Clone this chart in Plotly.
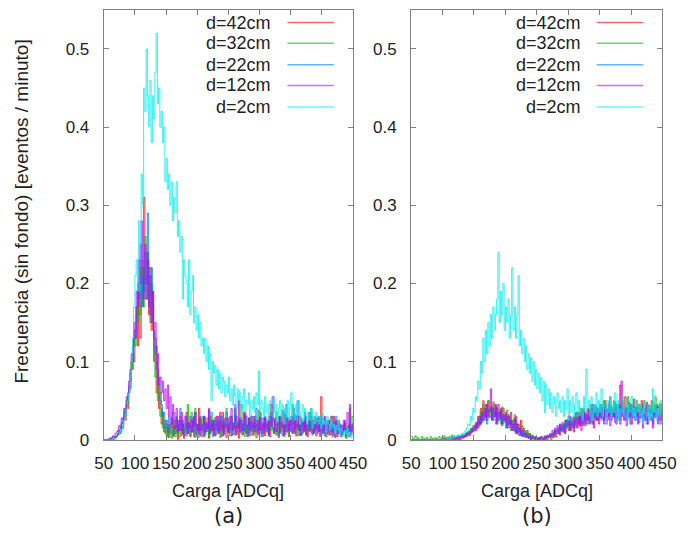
import plotly.graph_objects as go

# ---------------- data (bins of 2 ADCq, starting at 50) ----------------
ADC = list(range(50, 451, 2))

labels = ["d=42cm", "d=32cm", "d=22cm", "d=12cm", "d=2cm"]
colors = ["#ff0000", "#00c000", "#0080ff", "#c000ff", "#00eeee"]

# ---- panel (a) ----
a_d42 = [0, 0, 0, 0, 0, 0, 0, 0.002, 0, 0.003,
         0.004, 0.006, 0.01, 0.008, 0.018, 0.015, 0.03, 0.025, 0.045, 0.04,
         0.06, 0.075, 0.09, 0.11, 0.1, 0.14, 0.17, 0.12, 0.19, 0.13,
         0.22, 0.17, 0.31, 0.2, 0.18, 0.24, 0.16, 0.22, 0.14, 0.19,
         0.1, 0.13, 0.06, 0.09, 0.04, 0.06, 0.02, 0.035, 0.01, 0.025,
         0.005, 0.02, 0.003, 0.015, 0.028, 0.004, 0.018, 0.008, 0.025, 0,
         0.012, 0.03, 0.006, 0.02, 0.002, 0.015, 0.035, 0.008, 0.02, 0.004,
         0.025, 0.01, 0.03, 0.003, 0.018, 0.012, 0.04, 0.006, 0.02, 0.015,
         0.004, 0.028, 0.01, 0.02, 0.002, 0.03, 0.012, 0.025, 0.006, 0.018,
         0.03, 0.008, 0.015, 0.035, 0.004, 0.02, 0.01, 0.028, 0.003, 0.018,
         0.012, 0.03, 0.005, 0.022, 0.015, 0.04, 0.008, 0.018, 0.002, 0.025,
         0.015, 0.006, 0.035, 0.01, 0.02, 0.004, 0.028, 0.012, 0.03, 0.006,
         0.018, 0.025, 0.003, 0.02, 0.012, 0.035, 0.008, 0.015, 0.028, 0.005,
         0.02, 0.01, 0.03, 0.004, 0.045, 0.015, 0.008, 0.025, 0.012, 0.02,
         0.003, 0.03, 0.015, 0.038, 0.006, 0.02, 0.01, 0.028, 0.004, 0.018,
         0.025, 0.008, 0.015, 0.032, 0.005, 0.02, 0.012, 0.03, 0.006, 0.022,
         0.01, 0.035, 0.015, 0.004, 0.025, 0.012, 0.03, 0.008, 0.02, 0.015,
         0.005, 0.028, 0.012, 0.02, 0.055, 0.008, 0.018, 0.025, 0.004, 0.015,
         0.022, 0.006, 0.03, 0.01, 0.018, 0.003, 0.025, 0.012, 0.008, 0.02,
         0.004, 0.015, 0.01, 0.022, 0.002, 0.012, 0.018, 0.005, 0.01, 0.02,
         0.008]
a_d32 = [0, 0, 0, 0, 0, 0.002, 0, 0.003, 0.004, 0.002,
         0.006, 0.008, 0.012, 0.015, 0.022, 0.02, 0.035, 0.03, 0.05, 0.045,
         0.07, 0.065, 0.1, 0.09, 0.13, 0.12, 0.17, 0.15, 0.2, 0.16,
         0.19, 0.23, 0.17, 0.26, 0.2, 0.18, 0.22, 0.15, 0.2, 0.17,
         0.12, 0.08, 0.1, 0.05, 0.07, 0.03, 0.04, 0.015, 0.02, 0.008,
         0.015, 0.003, 0.01, 0.02, 0.002, 0.012, 0.025, 0.004, 0.03, 0.008,
         0.018, 0.004, 0.025, 0.012, 0.006, 0.02, 0.01, 0.045, 0.015, 0.005,
         0.035, 0.01, 0.02, 0.04, 0.008, 0.018, 0.003, 0.025, 0.012, 0.03,
         0.006, 0.02, 0.015, 0.028, 0.004, 0.01, 0.035, 0.012, 0.02, 0.005,
         0.025, 0.012, 0.018, 0.003, 0.03, 0.015, 0.008, 0.022, 0.04, 0.01,
         0.018, 0.005, 0.028, 0.012, 0.02, 0.035, 0.006, 0.015, 0.025, 0.01,
         0.045, 0.012, 0.02, 0.004, 0.03, 0.015, 0.008, 0.025, 0.012, 0.018,
         0.006, 0.03, 0.01, 0.02, 0.038, 0.012, 0.004, 0.022, 0.015, 0.028,
         0.01, 0.018, 0.005, 0.03, 0.012, 0.025, 0.008, 0.02, 0.035, 0.006,
         0.015, 0.028, 0.01, 0.02, 0.004, 0.032, 0.012, 0.018, 0.006, 0.025,
         0.02, 0.045, 0.01, 0.015, 0.03, 0.005, 0.022, 0.012, 0.028, 0.008,
         0.018, 0.03, 0.006, 0.022, 0.012, 0.015, 0.04, 0.008, 0.02, 0.01,
         0.028, 0.012, 0.018, 0.004, 0.03, 0.015, 0.008, 0.022, 0.012, 0.025,
         0.006, 0.018, 0.012, 0.03, 0.008, 0.02, 0.004, 0.015, 0.025, 0.01,
         0.012, 0.006, 0.02, 0.015, 0.004, 0.018, 0.01, 0.04, 0.012, 0.03,
         0.015]
a_d22 = [0, 0, 0, 0, 0, 0, 0.002, 0, 0.003, 0.004,
         0.005, 0.008, 0.012, 0.01, 0.02, 0.025, 0.03, 0.04, 0.045, 0.06,
         0.065, 0.085, 0.1, 0.12, 0.14, 0.13, 0.16, 0.2, 0.18, 0.25,
         0.17, 0.21, 0.19, 0.24, 0.18, 0.29, 0.2, 0.16, 0.22, 0.18,
         0.14, 0.11, 0.12, 0.07, 0.08, 0.05, 0.045, 0.03, 0.035, 0.015,
         0.025, 0.01, 0.03, 0.008, 0.02, 0.035, 0.006, 0.015, 0.028, 0.01,
         0.02, 0.04, 0.012, 0.025, 0.005, 0.018, 0.03, 0.008, 0.022, 0.015,
         0.01, 0.028, 0.004, 0.035, 0.015, 0.02, 0.008, 0.03, 0.012, 0.018,
         0.03, 0.006, 0.02, 0.012, 0.038, 0.01, 0.025, 0.004, 0.018, 0.028,
         0.012, 0.022, 0.008, 0.03, 0.015, 0.005, 0.025, 0.018, 0.035, 0.01,
         0.02, 0.012, 0.03, 0.006, 0.018, 0.045, 0.01, 0.022, 0.015, 0.028,
         0.008, 0.02, 0.012, 0.032, 0.018, 0.005, 0.025, 0.015, 0.03, 0.01,
         0.022, 0.015, 0.04, 0.008, 0.02, 0.012, 0.028, 0.004, 0.018, 0.03,
         0.012, 0.025, 0.008, 0.02, 0.035, 0.015, 0.01, 0.028, 0.006, 0.022,
         0.018, 0.03, 0.012, 0.005, 0.025, 0.015, 0.045, 0.01, 0.02, 0.012,
         0.03, 0.008, 0.022, 0.015, 0.028, 0.05, 0.012, 0.02, 0.006, 0.025,
         0.015, 0.03, 0.008, 0.02, 0.012, 0.035, 0.018, 0.006, 0.025, 0.012,
         0.02, 0.008, 0.03, 0.015, 0.022, 0.01, 0.028, 0.005, 0.018, 0.012,
         0.025, 0.01, 0.018, 0.004, 0.022, 0.012, 0.03, 0.008, 0.015, 0.02,
         0.006, 0.018, 0.012, 0.025, 0.008, 0.015, 0.004, 0.02, 0.01, 0.018,
         0.01]
a_d12 = [0, 0, 0, 0, 0.002, 0, 0.003, 0.005, 0.004, 0.008,
         0.01, 0.012, 0.018, 0.015, 0.028, 0.025, 0.04, 0.035, 0.055, 0.05,
         0.075, 0.09, 0.11, 0.1, 0.15, 0.13, 0.19, 0.17, 0.23, 0.2,
         0.28, 0.22, 0.18, 0.25, 0.2, 0.23, 0.17, 0.21, 0.15, 0.19,
         0.13, 0.15, 0.09, 0.11, 0.07, 0.08, 0.06, 0.075, 0.05, 0.065,
         0.04, 0.07, 0.03, 0.055, 0.02, 0.045, 0.035, 0.015, 0.04, 0.01,
         0.025, 0.012, 0.035, 0.008, 0.02, 0.03, 0.005, 0.022, 0.015, 0.03,
         0.01, 0.025, 0.018, 0.035, 0.006, 0.02, 0.012, 0.028, 0.004, 0.018,
         0.03, 0.01, 0.022, 0.015, 0.04, 0.008, 0.02, 0.012, 0.025, 0.005,
         0.018, 0.03, 0.01, 0.025, 0.012, 0.035, 0.006, 0.02, 0.015, 0.028,
         0.008, 0.022, 0.04, 0.012, 0.018, 0.006, 0.03, 0.015, 0.05, 0.01,
         0.025, 0.012, 0.02, 0.035, 0.008, 0.018, 0.028, 0.005, 0.022, 0.015,
         0.03, 0.01, 0.018, 0.025, 0.006, 0.035, 0.012, 0.02, 0.008, 0.028,
         0.015, 0.022, 0.005, 0.03, 0.018, 0.055, 0.025, 0.012, 0.01, 0.02,
         0.03, 0.008, 0.022, 0.015, 0.035, 0.006, 0.018, 0.028, 0.012, 0.025,
         0.01, 0.02, 0.04, 0.008, 0.025, 0.015, 0.03, 0.005, 0.018, 0.022,
         0.012, 0.028, 0.006, 0.02, 0.035, 0.01, 0.018, 0.025, 0.008, 0.03,
         0.015, 0.022, 0.01, 0.028, 0.005, 0.018, 0.012, 0.03, 0.02, 0.008,
         0.025, 0.012, 0.018, 0.006, 0.03, 0.015, 0.022, 0.004, 0.02, 0.012,
         0.018, 0.008, 0.025, 0.012, 0.02, 0.035, 0.01, 0.045, 0.006, 0.015,
         0.02]
a_d2 = [0, 0, 0, 0, 0, 0, 0, 0.002, 0, 0.002,
        0.003, 0.005, 0.006, 0.01, 0.012, 0.018, 0.025, 0.03, 0.04, 0.05,
        0.06, 0.08, 0.1, 0.13, 0.17, 0.21, 0.23, 0.19, 0.28, 0.25,
        0.34, 0.3, 0.45, 0.42, 0.5, 0.44, 0.4, 0.46, 0.38, 0.44,
        0.41, 0.47, 0.52, 0.43, 0.45, 0.4, 0.42, 0.38, 0.4, 0.33,
        0.36, 0.32, 0.34, 0.3, 0.33, 0.28, 0.31, 0.29, 0.33, 0.26,
        0.28, 0.24, 0.26, 0.18, 0.23, 0.21, 0.2, 0.17, 0.23, 0.16,
        0.19, 0.21, 0.15, 0.17, 0.14, 0.16, 0.13, 0.15, 0.12, 0.13,
        0.11, 0.13, 0.1, 0.12, 0.09, 0.11, 0.05, 0.1, 0.085, 0.095,
        0.07, 0.09, 0.065, 0.085, 0.06, 0.08, 0.075, 0.055, 0.07, 0.06,
        0.08, 0.05, 0.065, 0.045, 0.07, 0.055, 0.04, 0.065, 0.05, 0.06,
        0.04, 0.055, 0.065, 0.035, 0.05, 0.045, 0.06, 0.03, 0.05, 0.04,
        0.055, 0.035, 0.06, 0.045, 0.088, 0.03, 0.05, 0.04, 0.03, 0.055,
        0.035, 0.045, 0.025, 0.05, 0.04, 0.03, 0.055, 0.035, 0.045, 0.025,
        0.04, 0.05, 0.03, 0.045, 0.02, 0.04, 0.035, 0.05, 0.025, 0.04,
        0.06, 0.03, 0.04, 0.025, 0.045, 0.035, 0.05, 0.02, 0.035, 0.045,
        0.025, 0.04, 0.03, 0.02, 0.035, 0.025, 0.04, 0.015, 0.03, 0.02,
        0.035, 0.025, 0.02, 0.03, 0.015, 0.035, 0.02, 0.025, 0.01, 0.03,
        0.02, 0.012, 0.025, 0.015, 0.02, 0.008, 0.018, 0.012, 0.02, 0.006,
        0.015, 0.01, 0.004, 0.012, 0.008, 0.015, 0.005, 0.01, 0.003, 0.008,
        0.005]

# ---- panel (b) ----
b_d42 = [0, 0, 0, 0, 0, 0, 0, 0, 0, 0,
         0, 0, 0, 0, 0, 0, 0, 0, 0, 0,
         0, 0, 0, 0, 0, 0, 0.002, 0, 0, 0,
         0, 0.002, 0, 0, 0.003, 0, 0.002, 0, 0.004, 0,
         0.003, 0.002, 0.005, 0.004, 0.006, 0.008, 0.005, 0.012, 0.01, 0.015,
         0.012, 0.02, 0.015, 0.03, 0.018, 0.04, 0.025, 0.05, 0.03, 0.045,
         0.025, 0.05, 0.035, 0.04, 0.028, 0.048, 0.03, 0.042, 0.02, 0.045,
         0.03, 0.038, 0.02, 0.04, 0.025, 0.032, 0.015, 0.03, 0.02, 0.035,
         0.012, 0.025, 0.018, 0.03, 0.008, 0.02, 0.012, 0.025, 0.005, 0.015,
         0.01, 0.004, 0.012, 0.002, 0.008, 0, 0.006, 0.003, 0.004, 0,
         0.002, 0, 0.003, 0, 0, 0.002, 0, 0.004, 0, 0.003,
         0.005, 0, 0.006, 0.003, 0.01, 0.004, 0.008, 0.012, 0.006, 0.015,
         0.01, 0.02, 0.008, 0.018, 0.025, 0.012, 0.03, 0.015, 0.02, 0.01,
         0.025, 0.035, 0.015, 0.03, 0.02, 0.04, 0.018, 0.028, 0.035, 0.02,
         0.04, 0.025, 0.032, 0.045, 0.02, 0.038, 0.03, 0.042, 0.025, 0.035,
         0.03, 0.045, 0.035, 0.025, 0.05, 0.038, 0.03, 0.045, 0.055, 0.035,
         0.04, 0.03, 0.048, 0.035, 0.042, 0.028, 0.07, 0.038, 0.045, 0.03,
         0.055, 0.04, 0.035, 0.048, 0.03, 0.045, 0.04, 0.052, 0.035, 0.042,
         0.03, 0.045, 0.038, 0.05, 0.035, 0.04, 0.03, 0.048, 0.038, 0.044,
         0.035, 0.05, 0.04, 0.032, 0.045, 0.038, 0.042, 0.03, 0.046, 0.04,
         0.035]
b_d32 = [0.004, 0, 0.002, 0.005, 0, 0.003, 0.001, 0, 0.004, 0,
         0.002, 0, 0.003, 0, 0.001, 0.004, 0, 0.002, 0, 0.003,
         0, 0.002, 0.004, 0, 0.003, 0.001, 0.005, 0, 0.003, 0.002,
         0.004, 0.002, 0.006, 0.003, 0.005, 0.002, 0.004, 0.006, 0.003, 0.005,
         0.004, 0.007, 0.005, 0.008, 0.01, 0.006, 0.012, 0.015, 0.01, 0.018,
         0.015, 0.022, 0.018, 0.028, 0.02, 0.035, 0.025, 0.045, 0.03, 0.04,
         0.035, 0.05, 0.03, 0.042, 0.025, 0.038, 0.045, 0.03, 0.04, 0.025,
         0.035, 0.02, 0.042, 0.025, 0.03, 0.015, 0.038, 0.02, 0.028, 0.012,
         0.025, 0.015, 0.032, 0.01, 0.02, 0.006, 0.015, 0.01, 0.018, 0.004,
         0.012, 0.006, 0.01, 0.003, 0.008, 0.002, 0.005, 0, 0.004, 0.002,
         0, 0.003, 0, 0.002, 0.004, 0, 0.003, 0.002, 0.005, 0.003,
         0.006, 0.004, 0.008, 0.005, 0.012, 0.008, 0.015, 0.01, 0.02, 0.012,
         0.018, 0.01, 0.025, 0.015, 0.02, 0.03, 0.012, 0.025, 0.018, 0.03,
         0.02, 0.035, 0.025, 0.03, 0.018, 0.04, 0.028, 0.022, 0.035, 0.025,
         0.03, 0.04, 0.022, 0.035, 0.045, 0.028, 0.038, 0.025, 0.04, 0.032,
         0.045, 0.03, 0.038, 0.05, 0.028, 0.04, 0.035, 0.048, 0.03, 0.042,
         0.035, 0.05, 0.03, 0.045, 0.038, 0.025, 0.042, 0.035, 0.05, 0.03,
         0.04, 0.035, 0.055, 0.03, 0.045, 0.038, 0.028, 0.042, 0.035, 0.05,
         0.03, 0.045, 0.035, 0.04, 0.028, 0.05, 0.038, 0.032, 0.045, 0.035,
         0.04, 0.03, 0.048, 0.035, 0.055, 0.038, 0.03, 0.045, 0.035, 0.04,
         0.03]
b_d22 = [0, 0, 0, 0, 0, 0, 0, 0, 0, 0,
         0, 0, 0, 0, 0, 0, 0, 0, 0, 0,
         0, 0, 0, 0, 0, 0, 0, 0.002, 0, 0,
         0, 0.002, 0, 0.003, 0, 0.002, 0.004, 0, 0.003, 0.005,
         0.004, 0.006, 0.003, 0.008, 0.006, 0.01, 0.008, 0.012, 0.01, 0.015,
         0.012, 0.018, 0.015, 0.025, 0.02, 0.03, 0.022, 0.035, 0.025, 0.032,
         0.02, 0.038, 0.028, 0.03, 0.042, 0.025, 0.035, 0.02, 0.04, 0.03,
         0.025, 0.035, 0.018, 0.03, 0.022, 0.028, 0.015, 0.032, 0.02, 0.025,
         0.012, 0.02, 0.01, 0.025, 0.008, 0.015, 0.005, 0.012, 0.004, 0.01,
         0.006, 0.003, 0.008, 0.002, 0.005, 0, 0.004, 0.002, 0.003, 0,
         0.002, 0, 0, 0.003, 0, 0.002, 0.004, 0, 0.003, 0.005,
         0.004, 0.007, 0.003, 0.01, 0.006, 0.012, 0.008, 0.015, 0.01, 0.018,
         0.012, 0.02, 0.008, 0.025, 0.015, 0.02, 0.03, 0.012, 0.022, 0.018,
         0.028, 0.015, 0.025, 0.035, 0.018, 0.03, 0.02, 0.038, 0.025, 0.03,
         0.02, 0.035, 0.028, 0.04, 0.022, 0.03, 0.045, 0.025, 0.035, 0.028,
         0.04, 0.025, 0.035, 0.03, 0.045, 0.02, 0.038, 0.03, 0.042, 0.025,
         0.035, 0.028, 0.045, 0.02, 0.038, 0.03, 0.025, 0.04, 0.03, 0.035,
         0.025, 0.042, 0.03, 0.035, 0.02, 0.045, 0.03, 0.038, 0.025, 0.04,
         0.03, 0.022, 0.038, 0.028, 0.045, 0.025, 0.035, 0.02, 0.04, 0.03,
         0.025, 0.038, 0.02, 0.035, 0.03, 0.045, 0.025, 0.032, 0.02, 0.038,
         0.03]
b_d12 = [0, 0, 0, 0, 0, 0, 0, 0, 0, 0,
         0, 0, 0, 0, 0, 0, 0, 0, 0, 0,
         0, 0, 0, 0, 0, 0, 0, 0, 0, 0.002,
         0, 0, 0.002, 0, 0.003, 0, 0.002, 0.004, 0, 0.003,
         0.005, 0.003, 0.006, 0.004, 0.008, 0.006, 0.01, 0.008, 0.014, 0.01,
         0.018, 0.012, 0.022, 0.015, 0.03, 0.02, 0.035, 0.025, 0.04, 0.028,
         0.045, 0.03, 0.038, 0.065, 0.025, 0.04, 0.03, 0.045, 0.022, 0.035,
         0.028, 0.04, 0.02, 0.032, 0.025, 0.035, 0.018, 0.03, 0.015, 0.025,
         0.02, 0.012, 0.028, 0.008, 0.02, 0.01, 0.015, 0.006, 0.012, 0.004,
         0.008, 0.003, 0.006, 0.002, 0.004, 0, 0.003, 0.002, 0, 0.002,
         0, 0.003, 0, 0.004, 0.002, 0, 0.005, 0.003, 0.006, 0.004,
         0.008, 0.005, 0.012, 0.006, 0.015, 0.01, 0.018, 0.008, 0.02, 0.012,
         0.022, 0.015, 0.01, 0.025, 0.018, 0.03, 0.012, 0.02, 0.028, 0.015,
         0.025, 0.018, 0.035, 0.02, 0.03, 0.012, 0.028, 0.04, 0.018, 0.032,
         0.025, 0.038, 0.02, 0.032, 0.045, 0.015, 0.03, 0.025, 0.04, 0.02,
         0.035, 0.028, 0.042, 0.02, 0.038, 0.03, 0.025, 0.045, 0.018, 0.035,
         0.03, 0.04, 0.022, 0.035, 0.028, 0.045, 0.02, 0.075, 0.03, 0.025,
         0.04, 0.018, 0.035, 0.028, 0.045, 0.02, 0.038, 0.03, 0.025, 0.042,
         0.02, 0.035, 0.028, 0.04, 0.015, 0.032, 0.025, 0.045, 0.02, 0.03,
         0.038, 0.025, 0.015, 0.035, 0.028, 0.042, 0.02, 0.032, 0.025, 0.04,
         0.03]
b_d2 = [0, 0, 0, 0, 0, 0, 0, 0, 0, 0,
        0, 0, 0, 0, 0, 0, 0, 0, 0, 0,
        0, 0, 0, 0, 0, 0, 0, 0, 0.002, 0,
        0.002, 0, 0.003, 0.002, 0.004, 0.003, 0.005, 0.004, 0.006, 0.005,
        0.008, 0.006, 0.01, 0.012, 0.015, 0.02, 0.018, 0.03, 0.025, 0.04,
        0.035, 0.055, 0.05, 0.075, 0.065, 0.1, 0.085, 0.13, 0.1, 0.14,
        0.11, 0.15, 0.12, 0.16, 0.13, 0.17, 0.14, 0.16, 0.18, 0.24,
        0.15, 0.19, 0.16, 0.2, 0.14, 0.17, 0.15, 0.18, 0.13, 0.16,
        0.22, 0.14, 0.17, 0.13, 0.16, 0.21, 0.12, 0.14, 0.11, 0.13,
        0.1, 0.12, 0.09, 0.11, 0.085, 0.105, 0.075, 0.1, 0.07, 0.09,
        0.065, 0.085, 0.06, 0.08, 0.05, 0.075, 0.035, 0.07, 0.045, 0.065,
        0.04, 0.06, 0.035, 0.055, 0.045, 0.03, 0.06, 0.04, 0.05, 0.035,
        0.055, 0.03, 0.05, 0.04, 0.065, 0.025, 0.05, 0.035, 0.055, 0.03,
        0.045, 0.06, 0.03, 0.05, 0.035, 0.04, 0.025, 0.055, 0.035, 0.09,
        0.04, 0.05, 0.03, 0.055, 0.025, 0.045, 0.035, 0.06, 0.03, 0.05,
        0.035, 0.065, 0.03, 0.045, 0.04, 0.025, 0.05, 0.035, 0.055, 0.03,
        0.045, 0.035, 0.06, 0.03, 0.05, 0.025, 0.04, 0.035, 0.055, 0.03,
        0.04, 0.05, 0.025, 0.045, 0.035, 0.055, 0.03, 0.04, 0.025, 0.05,
        0.035, 0.045, 0.03, 0.04, 0.02, 0.05, 0.035, 0.03, 0.045, 0.025,
        0.04, 0.03, 0.065, 0.035, 0.045, 0.025, 0.04, 0.03, 0.05, 0.035,
        0.03]

panel_a = [a_d42, a_d32, a_d22, a_d12, a_d2]
panel_b = [b_d42, b_d32, b_d22, b_d12, b_d2]

X_TICKS = [50, 100, 150, 200, 250, 300, 350, 400, 450]
Y_TICKS = [0, 0.1, 0.2, 0.3, 0.4, 0.5]
Y_TICK_TEXT = ["0", "0.1", "0.2", "0.3", "0.4", "0.5"]

# ---------------- figure ----------------
W, H = 691, 542
FONT = "Liberation Sans, Arial, sans-serif"
TXT = "#222222"


def rgba(hex_col, a):
    h = hex_col.lstrip("#")
    return "rgba(%d,%d,%d,%.2f)" % (int(h[0:2], 16), int(h[2:4], 16), int(h[4:6], 16), a)


fig = go.Figure()
for series, col, name in zip(panel_a, colors, labels):
    fig.add_trace(go.Scatter(x=ADC, y=series, mode="lines", line_shape="hv",
                             line=dict(color=rgba(col, 0.8), width=1), name=name,
                             xaxis="x", yaxis="y", showlegend=False))
for series, col, name in zip(panel_b, colors, labels):
    fig.add_trace(go.Scatter(x=ADC, y=series, mode="lines", line_shape="hv",
                             line=dict(color=rgba(col, 0.8), width=1), name=name,
                             xaxis="x2", yaxis="y2", showlegend=False))


def px(x):
    return x / W


def py(y):
    return 1 - y / H


axis_common = dict(showline=True, linecolor="#808080", linewidth=1, mirror="ticks",
                   ticks="inside", ticklen=5, tickcolor="#808080", tickwidth=1,
                   showgrid=False, zeroline=False,
                   tickfont=dict(family=FONT, size=17, color=TXT))

y_dom = [py(448), py(10)]
fig.update_layout(
    width=W, height=H, margin=dict(l=0, r=0, t=0, b=0),
    paper_bgcolor="white", plot_bgcolor="white", showlegend=False,
    xaxis=dict(domain=[px(98), px(356)], range=[50, 450], tickvals=X_TICKS,
               anchor="y", ticklabelstandoff=8, **axis_common),
    yaxis=dict(domain=y_dom, range=[0, 0.55], tickvals=Y_TICKS, ticktext=Y_TICK_TEXT,
               anchor="x", ticklabelstandoff=10, **axis_common),
    xaxis2=dict(domain=[px(416), px(676)], range=[50, 450], tickvals=X_TICKS,
                anchor="y2", ticklabelstandoff=8, **axis_common),
    yaxis2=dict(domain=y_dom, range=[0, 0.55], tickvals=Y_TICKS, ticktext=Y_TICK_TEXT,
                anchor="x2", ticklabelstandoff=10, **axis_common),
)

ann = []
shapes = []
# legends (gnuplot style: right-aligned label followed by a line sample)
rows = [23, 44, 66, 87, 109]
for text_right, l0, l1 in [(273, 288, 336), (594, 608, 656)]:
    for yy, col, name in zip(rows, colors, labels):
        ann.append(dict(x=px(text_right), y=py(yy), xref="paper", yref="paper",
                        text=name, showarrow=False, xanchor="right", yanchor="middle",
                        font=dict(family=FONT, size=18, color=TXT)))
        shapes.append(dict(type="line", xref="paper", yref="paper",
                           x0=px(l0), x1=px(l1), y0=py(yy), y1=py(yy),
                           line=dict(color=rgba(col, 0.6), width=1.5)))

# axis titles and captions
for cx, cap in [(227, "(a)"), (546, "(b)")]:
    ann.append(dict(x=px(cx), y=py(500), xref="paper", yref="paper", text="Carga [ADCq]",
                    showarrow=False, xanchor="center", yanchor="middle",
                    font=dict(family=FONT, size=18, color=TXT)))
    ann.append(dict(x=px(cx), y=py(526), xref="paper", yref="paper", text=cap,
                    showarrow=False, xanchor="center", yanchor="middle",
                    font=dict(family="DejaVu Sans, sans-serif", size=21, color=TXT)))
ann.append(dict(x=px(12), y=py(216), xref="paper", yref="paper",
                text="Frecuencia (sin fondo) [eventos / minuto]", textangle=-90,
                showarrow=False, xanchor="center", yanchor="middle",
                font=dict(family=FONT, size=19, color=TXT)))

fig.update_layout(annotations=ann, shapes=shapes)
fig.write_html("out.html")
